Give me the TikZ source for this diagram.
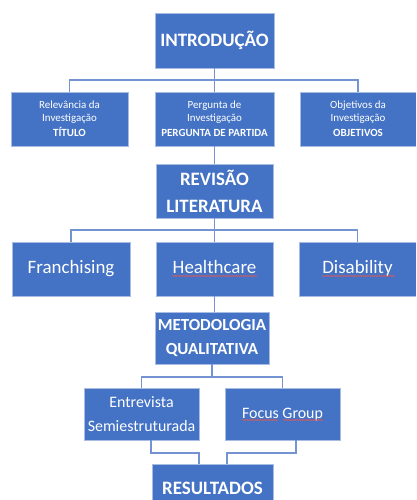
\documentclass[tikz,border=0pt]{standalone}
\usepackage{fontspec}
\setmainfont{Carlito}
\usetikzlibrary{decorations.pathmorphing}
\definecolor{boxblue}{HTML}{4472C4}
\definecolor{boxedge}{HTML}{A9BDE4}
\definecolor{linkblue}{HTML}{7393D3}
\definecolor{spellred}{HTML}{E05858}
\begin{document}
\begin{tikzpicture}[x=1bp,y=-1bp,
  box/.style={draw=boxedge, line width=0.8bp, fill=boxblue, text=white,
    inner sep=0pt, align=center},
  bigbox/.style={box, minimum width=119bp, minimum height=55bp},
  smallbox/.style={box, minimum width=117bp, minimum height=54bp},
  oneline/.style={text height=13bp, text depth=4bp},
  conn/.style={draw=linkblue, line width=1.3bp},
  spell/.style={draw=spellred, line width=0.6bp, decorate,
    decoration={snake, amplitude=0.5bp, segment length=2.2bp}},
  tinyfont/.style={font=\fontsize{11}{12.5}\selectfont},
]
\clip (0,0) rectangle (416,500);
\fill[white] (0,0) rectangle (416,500);

% nodes
\node[bigbox, font=\fontsize{19}{22}\bfseries] (intro) at (214.5,40.5) {INTRODUÇÃO};

\node[smallbox, tinyfont] (rel) at (69.5,119) {Relevância da\\Investigação\\[3pt]\textbf{TÍTULO}};
\node[bigbox, minimum height=54bp, tinyfont] (perg) at (214.5,119) {Pergunta de\\Investigação\\[3pt]\textbf{PERGUNTA DE PARTIDA}};
\node[smallbox, minimum width=116bp, tinyfont] (obj) at (358,119) {Objetivos da\\Investigação\\[3pt]\textbf{OBJETIVOS}};

\node[smallbox, font=\fontsize{19}{27}\bfseries] (rev) at (214.5,191) {REVISÃO\\LITERATURA};

\node[smallbox, oneline, minimum width=118bp, font=\fontsize{19}{22}\selectfont] (fran) at (71,269) {Franchising};
\node[smallbox, oneline, font=\fontsize{19}{22}\selectfont] (health) at (214.5,269) {Healthcare};
\node[smallbox, oneline, font=\fontsize{19}{22}\selectfont] (dis) at (357.5,269) {Disability};

\node[box, minimum width=114bp, minimum height=52bp, font=\fontsize{17}{25}\bfseries] (met) at (212,338) {METODOLOGIA\\QUALITATIVA};

\node[box, minimum width=115bp, minimum height=52bp, font=\fontsize{16}{24}\selectfont] (ent) at (141.5,414) {Entrevista\\Semiestruturada};
\node[box, oneline, minimum width=115bp, minimum height=52bp, font=\fontsize{16}{19}\selectfont] (foc) at (282.5,414) {Focus Group};

\node[box, minimum width=121bp, minimum height=48bp, font=\fontsize{19}{22}\bfseries] (res) at (212.5,488) {RESULTADOS};

% junctions
\coordinate (j1) at (214.5,80);
\coordinate (j2) at (214.5,230);
\coordinate (j3) at (212,377);

% connectors
\draw[conn] (intro.south) -- (intro.south |- j1);
\draw[conn] (rel.north) |- (j1) -| (obj.north);
\draw[conn] (perg.north) -- (perg.north |- j1);
\draw[conn] (perg.south) -- (rev.north);

\draw[conn] (rev.south) -- (rev.south |- j2);
\draw[conn] (fran.north) |- (j2) -| (dis.north);
\draw[conn] (health.north) -- (health.north |- j2);
\draw[conn] (health.south) -- (health.south |- met.north);

\draw[conn] (met.south) -- (met.south |- j3);
\draw[conn] (ent.north) |- (j3) -| (foc.north);

\coordinate (r1) at (199,453);
\coordinate (r2) at (227,453);
\draw[conn] ([xshift=9.5bp]ent.south) |- (r1) -- (r1 |- res.north);
\draw[conn] ([xshift=13.5bp]foc.south) |- (r2) -- (r2 |- res.north);

% spelling underlines
\draw[spell] (172,276) -- (257,276);
\draw[spell] (322,276) -- (395,276);
\draw[spell] (242,420) -- (278,420);
\draw[spell] (283,420) -- (323,420);
\end{tikzpicture}
\end{document}
